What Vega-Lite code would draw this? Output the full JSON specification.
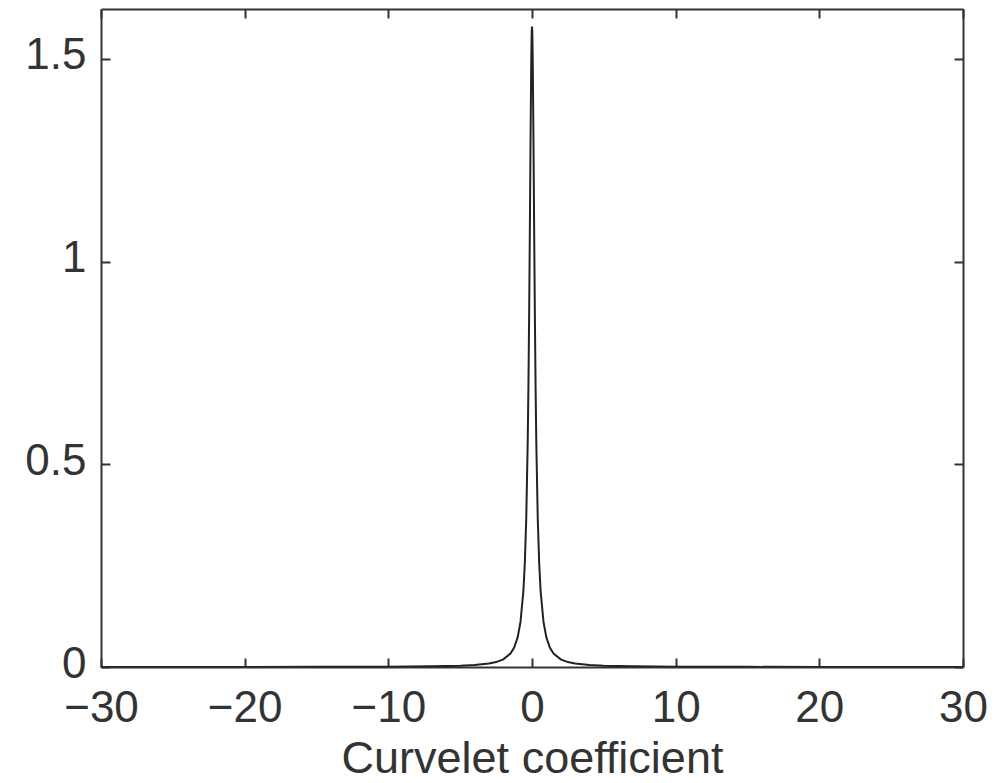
{
  "$schema": "https://vega.github.io/schema/vega-lite/v6.json",
  "width": 862,
  "height": 658,
  "autosize": {"type": "none"},
  "padding": {"left": 101, "top": 9, "right": 38, "bottom": 116},
  "background": "white",
  "config": {
    "view": {"stroke": null},
    "font": "Liberation Sans",
    "axis": {
      "grid": false,
      "domainColor": "#333333",
      "domainWidth": 2,
      "tickColor": "#333333",
      "tickWidth": 2,
      "tickSize": -9,
      "labelFont": "Liberation Sans",
      "labelFontSize": 44,
      "labelColor": "#333333",
      "titleFont": "Liberation Sans",
      "titleFontSize": 45,
      "titleFontWeight": "normal",
      "titleColor": "#333333"
    }
  },
  "data": {
    "values": [
      {"x": -30, "density": 0.00008},
      {"x": -25, "density": 0.00012},
      {"x": -20, "density": 0.00019},
      {"x": -15, "density": 0.00034},
      {"x": -10, "density": 0.00076},
      {"x": -7, "density": 0.00156},
      {"x": -5, "density": 0.00305},
      {"x": -4, "density": 0.00476},
      {"x": -3, "density": 0.00845},
      {"x": -2.5, "density": 0.01214},
      {"x": -2, "density": 0.0189},
      {"x": -1.5, "density": 0.0333},
      {"x": -1.25, "density": 0.0475},
      {"x": -1, "density": 0.0729},
      {"x": -0.8, "density": 0.1111},
      {"x": -0.6, "density": 0.1873},
      {"x": -0.5, "density": 0.2563},
      {"x": -0.4, "density": 0.3669},
      {"x": -0.3, "density": 0.5525},
      {"x": -0.25, "density": 0.6896},
      {"x": -0.2, "density": 0.865},
      {"x": -0.15, "density": 1.0786},
      {"x": -0.1, "density": 1.3095},
      {"x": -0.05, "density": 1.502},
      {"x": -0.02, "density": 1.567},
      {"x": 0, "density": 1.58},
      {"x": 0.02, "density": 1.567},
      {"x": 0.05, "density": 1.502},
      {"x": 0.1, "density": 1.3095},
      {"x": 0.15, "density": 1.0786},
      {"x": 0.2, "density": 0.865},
      {"x": 0.25, "density": 0.6896},
      {"x": 0.3, "density": 0.5525},
      {"x": 0.4, "density": 0.3669},
      {"x": 0.5, "density": 0.2563},
      {"x": 0.6, "density": 0.1873},
      {"x": 0.8, "density": 0.1111},
      {"x": 1, "density": 0.0729},
      {"x": 1.25, "density": 0.0475},
      {"x": 1.5, "density": 0.0333},
      {"x": 2, "density": 0.0189},
      {"x": 2.5, "density": 0.01214},
      {"x": 3, "density": 0.00845},
      {"x": 4, "density": 0.00476},
      {"x": 5, "density": 0.00305},
      {"x": 7, "density": 0.00156},
      {"x": 10, "density": 0.00076},
      {"x": 15, "density": 0.00034},
      {"x": 20, "density": 0.00019},
      {"x": 25, "density": 0.00012},
      {"x": 30, "density": 0.00008}
    ]
  },
  "layer": [
    {
      "mark": {"type": "line", "color": "#222222", "strokeWidth": 2, "clip": true},
      "encoding": {
        "x": {
          "field": "x", "type": "quantitative",
          "scale": {"domain": [-30, 30], "nice": false, "zero": false},
          "axis": {"orient": "bottom", "values": [-30, -20, -10, 0, 10, 20, 30], "title": "Curvelet coefficient", "labelPadding": 28, "titlePadding": 6, "labelFlush": false}
        },
        "y": {
          "field": "density", "type": "quantitative",
          "scale": {"domain": [0, 1.623], "nice": false},
          "axis": {"orient": "left", "values": [0, 0.5, 1, 1.5], "format": "~g", "title": null, "labelPadding": 24, "labelOffset": -3, "labelFlush": false}
        }
      }
    },
    {
      "mark": {"type": "line", "opacity": 0},
      "encoding": {
        "x": {
          "field": "x", "type": "quantitative",
          "axis": {"orient": "top", "values": [-30, -20, -10, 0, 10, 20, 30], "labels": false, "title": null}
        },
        "y": {
          "field": "density", "type": "quantitative",
          "axis": {"orient": "right", "values": [0, 0.5, 1, 1.5], "labels": false, "title": null}
        }
      }
    }
  ],
  "resolve": {"axis": {"x": "independent", "y": "independent"}}
}
